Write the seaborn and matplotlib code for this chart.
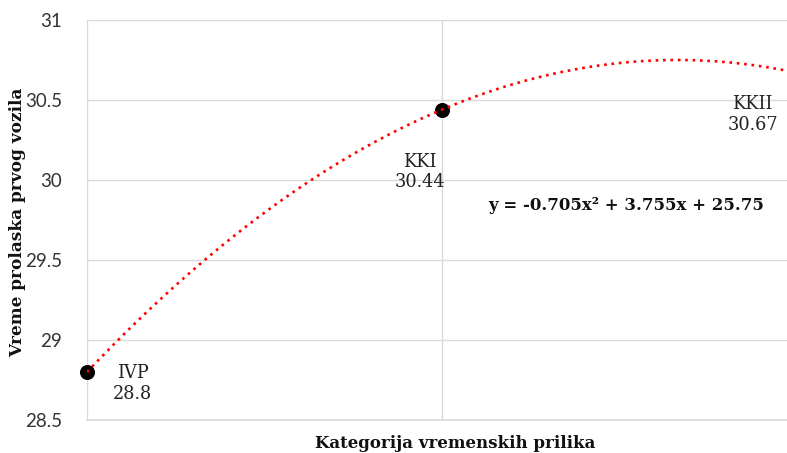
import seaborn as sns
import matplotlib.pyplot as plt
import numpy as np

sns.set_style("whitegrid")

categories = ["IVP", "KKI", "KKII"]
x_pos = [1, 2, 3]
values = [28.8, 30.44, 30.67]
y_ticks = [28.5, 29, 29.5, 30, 30.5, 31]

serif = ["DejaVu Serif"]
sans = ["Lato", "DejaVu Sans"]

# quadratic trendline through the three points
coef = np.polyfit(x_pos, values, 2)
xs = np.linspace(1, 3, 300)
ys = np.polyval(coef, xs)

fig = plt.figure(figsize=(7.87, 4.53), dpi=100)
ax = fig.add_axes([87 / 787, 33 / 453, 710 / 787, 400 / 453])

sns.scatterplot(x=x_pos, y=values, color="black", s=100, edgecolor="black",
                ax=ax, zorder=3, clip_on=False)
sns.lineplot(x=xs, y=ys, color="red", linestyle=(0, (1, 1.8)), linewidth=1.9,
             ax=ax, zorder=4)

ax.set_xlim(1, 3)
ax.set_ylim(28.5, 31)
ax.set_xticks(x_pos)
ax.set_xticklabels([])
ax.set_yticks(y_ticks)
ax.set_yticklabels([f"{t:g}" for t in y_ticks], family=sans, fontsize=13.5,
                   color="#333333")
ax.tick_params(axis="y", length=0, pad=18)
ax.tick_params(axis="x", length=0)
ax.grid(True, color="#d9d9d9", linewidth=1)
for side in ["top", "right"]:
    ax.spines[side].set_visible(False)
ax.spines["left"].set_visible(False)
ax.spines["bottom"].set_color("#d9d9d9")
ax.spines["bottom"].set_linewidth(1.2)

# data labels
offsets = [(33, -8), (-16, -45), (-32, -30)]
for x, v, c, (dx, dy) in zip(x_pos, values, categories, offsets):
    ax.annotate(f"{c}\n{v:g}", xy=(x, v), xytext=(dx, dy),
                textcoords="offset points", ha="center", va="center",
                family=serif, fontsize=12.8, color="#222222", linespacing=1.2)

a, b, c0 = coef
ax.text(626 / 787, 1 - 205 / 453, f"y = {a:.3f}x² + {b:.3f}x + {c0:.2f}",
        transform=fig.transFigure, ha="center", va="center", family=serif,
        fontsize=12, fontweight="bold", color="#111111")

fig.text(455 / 787, 1 - 443 / 453, "Kategorija vremenskih prilika", ha="center",
         va="center", family=serif, fontsize=12, fontweight="bold",
         color="#111111")
fig.text(18 / 787, 1 - 222 / 453, "Vreme prolaska prvog vozila", ha="center",
         va="center", rotation=90, family=serif, fontsize=12.2,
         fontweight="bold", color="#111111")

fig.savefig("out.png", dpi=100)
